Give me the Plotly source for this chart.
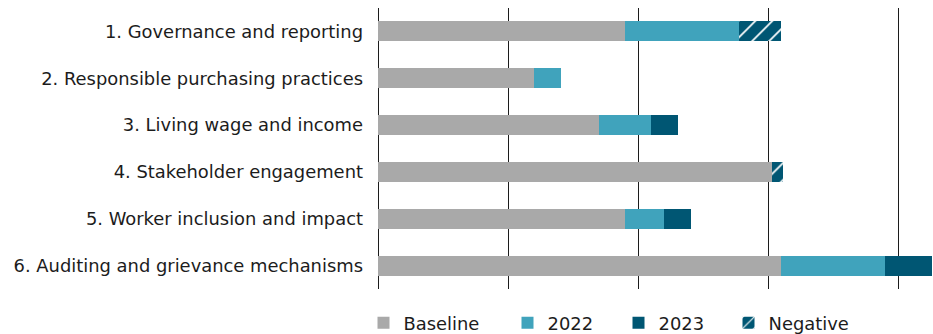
import plotly.graph_objects as go

# Pillars of the programme, top to bottom
categories = [
    "1. Governance and reporting",
    "2. Responsible purchasing practices",
    "3. Living wage and income",
    "4. Stakeholder engagement",
    "5. Worker inclusion and impact",
    "6. Auditing and grievance mechanisms",
]

# Score contributions stacked left to right
baseline = [19.0, 12.0, 17.0, 30.3, 19.0, 31.0]
gain_2022 = [8.8, 2.1, 4.0, 0.0, 3.0, 8.0]
gain_2023 = [0.0, 0.0, 2.05, 0.0, 2.05, 3.6]
negative = [3.2, 0.0, 0.0, 0.85, 0.0, 0.0]

series_names = ["Baseline", "2022", "2023", "Negative"]
series_values = [baseline, gain_2022, gain_2023, negative]
series_colors = ["#a9a9a9", "#40a3bc", "#005673", "#005673"]

FONT = "DejaVu Sans"
FONT_SIZE = 17.9
TEXT_COLOR = "#1c1c1c"
GRID_COLOR = "#1c1c1c"

W, H = 933, 334
M_L, M_R, M_T, M_B = 378, 0, 8, 45
plot_w = W - M_L - M_R
px_per_unit = 13.0
x_max = plot_w / px_per_unit

fig = go.Figure()
legend_ids = ["legend", "legend2", "legend3", "legend4"]
for name, vals, color, lg in zip(series_names, series_values, series_colors, legend_ids):
    marker = dict(color=color, line=dict(width=0))
    if name == "Negative":
        marker["pattern"] = dict(shape="/", fgcolor="white", bgcolor=color,
                                 size=12, solidity=0.14, fillmode="replace")
    fig.add_trace(go.Bar(
        y=categories, x=vals, name=name, orientation="h",
        marker=marker, width=0.43, legend=lg, hoverinfo="x+name",
    ))

# One legend per series so each entry sits where it should along the bottom
legend_centers_px = [383.5, 527.5, 638.5, 748.5]
plot_h = H - M_T - M_B
legend_y = -(323 - (H - M_B)) / plot_h
layout_legends = {}
for lg, cx in zip(legend_ids, legend_centers_px):
    layout_legends[lg] = dict(
        x=(cx - 20 - M_L) / plot_w, xanchor="left",
        y=legend_y, yanchor="middle",
        orientation="h", bgcolor="rgba(0,0,0,0)", borderwidth=0,
        font=dict(family=FONT, size=FONT_SIZE, color=TEXT_COLOR),
    )

fig.update_layout(
    width=W, height=H,
    margin=dict(l=M_L, r=M_R, t=M_T, b=M_B, pad=0, autoexpand=False),
    barmode="stack",
    plot_bgcolor="white", paper_bgcolor="white",
    font=dict(family=FONT, size=FONT_SIZE, color=TEXT_COLOR),
    showlegend=True,
    xaxis=dict(
        range=[0, x_max], tick0=0, dtick=10,
        showgrid=True, gridcolor=GRID_COLOR, gridwidth=1,
        zeroline=True, zerolinecolor=GRID_COLOR, zerolinewidth=1,
        showticklabels=False, showline=False, ticks="", fixedrange=True,
    ),
    yaxis=dict(
        autorange="reversed", showgrid=False, zeroline=False, showline=False,
        ticks="", ticklabelstandoff=14, fixedrange=True,
        tickfont=dict(family=FONT, size=FONT_SIZE, color=TEXT_COLOR),
    ),
    **layout_legends,
)

fig.write_html("out.html")
